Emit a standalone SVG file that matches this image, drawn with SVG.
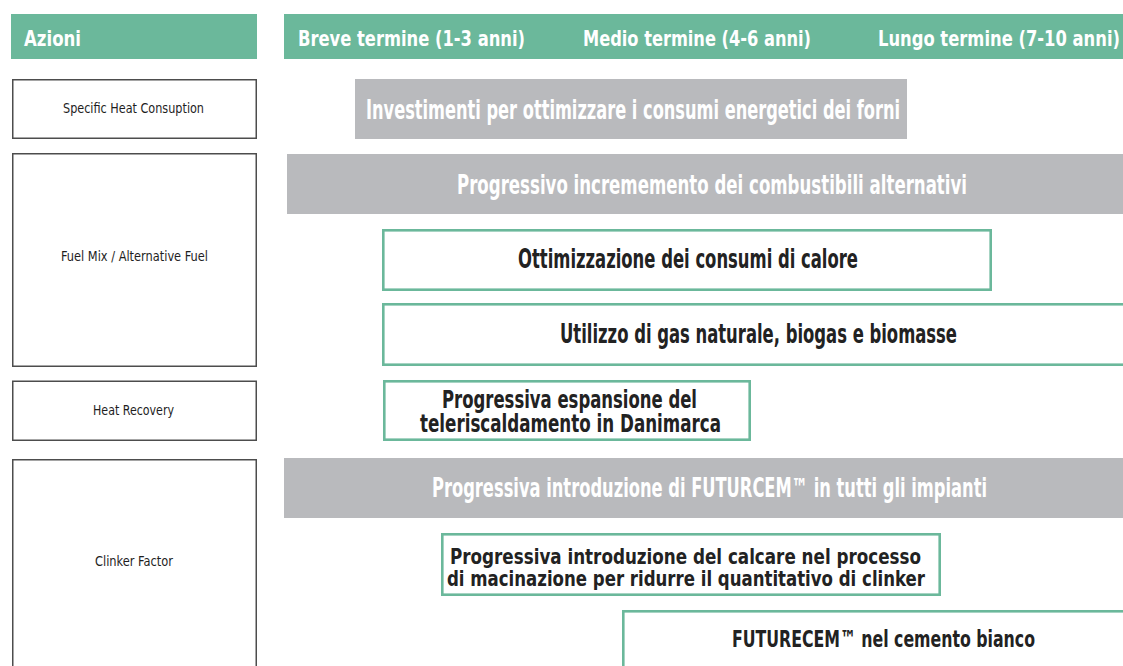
<svg xmlns="http://www.w3.org/2000/svg" width="1123" height="666" viewBox="0 0 1123 666">
<style>
  .hdr { fill: #6bb89b; }
  .act { fill: #ffffff; stroke: #4d4d4d; stroke-width: 1.5; }
  .gray { fill: #b9babd; }
  .grn { fill: #ffffff; stroke: #6bb89b; stroke-width: 2.6; }
  text { font-family: "Liberation Sans Narrow", "DejaVu Sans Condensed", "DejaVu Sans", sans-serif; font-stretch: condensed; }
  .ht { fill: #ffffff; font-weight: bold; font-size: 22px; }
  .lt { fill: #1e1e1e; font-size: 14.5px; }
  .wt { fill: #ffffff; font-weight: bold; font-size: 26px; }
  .dt { fill: #222222; font-weight: bold; font-size: 26px; }
  .dt1 { fill: #222222; font-weight: bold; font-size: 24px; }
  .dt2 { fill: #222222; font-weight: bold; font-size: 23px; }
  .dt3 { fill: #222222; font-weight: bold; font-size: 21px; }
</style>
<rect width="1123" height="666" fill="#ffffff"/>
<g id="header">
  <rect class="hdr" x="11" y="14" width="246" height="45"/>
  <rect class="hdr" x="284" y="14" width="845" height="45"/>
  <text class="ht" x="24" y="46" textLength="57" lengthAdjust="spacingAndGlyphs">Azioni</text>
  <text class="ht" x="298" y="46" textLength="227" lengthAdjust="spacingAndGlyphs">Breve termine (1-3 anni)</text>
  <text class="ht" x="583" y="46" textLength="228" lengthAdjust="spacingAndGlyphs">Medio termine (4-6 anni)</text>
  <text class="ht" x="878" y="46" textLength="242" lengthAdjust="spacingAndGlyphs">Lungo termine (7-10 anni)</text>
</g>
<g id="action-specific-heat">
  <rect class="act" x="12.75" y="79.75" width="243.5" height="58.5"/>
  <text class="lt" x="63" y="113" textLength="141" lengthAdjust="spacingAndGlyphs">Specific Heat Consuption</text>
</g>
<g id="action-fuel-mix">
  <rect class="act" x="12.75" y="153.75" width="243.5" height="212.5"/>
  <text class="lt" x="61" y="261" textLength="147" lengthAdjust="spacingAndGlyphs">Fuel Mix / Alternative Fuel</text>
</g>
<g id="action-heat-recovery">
  <rect class="act" x="12.75" y="381.25" width="243.5" height="59"/>
  <text class="lt" x="93" y="415" textLength="81" lengthAdjust="spacingAndGlyphs">Heat Recovery</text>
</g>
<g id="action-clinker">
  <rect class="act" x="12.75" y="459.75" width="243.5" height="220"/>
  <text class="lt" x="95" y="566" textLength="78" lengthAdjust="spacingAndGlyphs">Clinker Factor</text>
</g>
<g id="bar-investimenti">
  <rect class="gray" x="355" y="79" width="552" height="60"/>
  <text class="wt" x="366" y="118.5" textLength="534" lengthAdjust="spacingAndGlyphs">Investimenti per ottimizzare i consumi energetici dei forni</text>
</g>
<g id="bar-combustibili">
  <rect class="gray" x="287" y="154" width="842" height="60"/>
  <text class="wt" x="457" y="194" textLength="510" lengthAdjust="spacingAndGlyphs">Progressivo incrememento dei combustibili alternativi</text>
</g>
<g id="bar-ottimizzazione">
  <rect class="grn" x="383.3" y="230.3" width="607.4" height="59.4"/>
  <text class="dt" x="518" y="268" textLength="340" lengthAdjust="spacingAndGlyphs">Ottimizzazione dei consumi di calore</text>
</g>
<g id="bar-gas">
  <rect class="grn" x="383.3" y="304.3" width="750" height="60.4"/>
  <text class="dt" x="560" y="343" textLength="397" lengthAdjust="spacingAndGlyphs">Utilizzo di gas naturale, biogas e biomasse</text>
</g>
<g id="bar-teleriscaldamento">
  <rect class="grn" x="384.3" y="381.3" width="365.4" height="58.4"/>
  <text class="dt1" x="442" y="408" textLength="255" lengthAdjust="spacingAndGlyphs">Progressiva espansione del</text>
  <text class="dt1" x="420" y="432" textLength="301" lengthAdjust="spacingAndGlyphs">teleriscaldamento in Danimarca</text>
</g>
<g id="bar-futurcem">
  <rect class="gray" x="284" y="458" width="845" height="60"/>
  <text class="wt" x="432" y="497" textLength="555" lengthAdjust="spacingAndGlyphs">Progressiva introduzione di FUTURCEM™ in tutti gli impianti</text>
</g>
<g id="bar-calcare">
  <rect class="grn" x="442.3" y="534.3" width="497.4" height="60.4"/>
  <text class="dt3" x="450" y="564" textLength="471" lengthAdjust="spacingAndGlyphs">Progressiva introduzione del calcare nel processo</text>
  <text class="dt3" x="447" y="586" textLength="478" lengthAdjust="spacingAndGlyphs">di macinazione per ridurre il quantitativo di clinker</text>
</g>
<g id="bar-futurecem-bianco">
  <rect class="grn" x="623.3" y="611.3" width="520" height="80"/>
  <text class="dt2" x="732" y="647" textLength="303" lengthAdjust="spacingAndGlyphs">FUTURECEM™ nel cemento bianco</text>
</g>
<g id="connectors"></g>
</svg>
